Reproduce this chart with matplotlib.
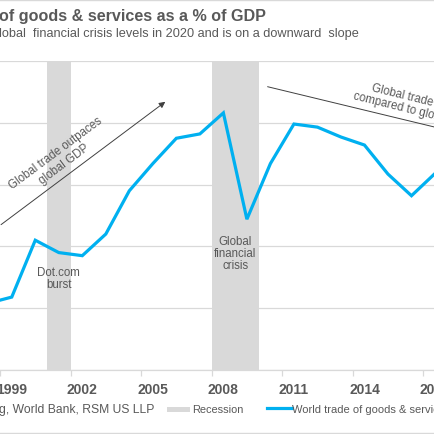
import matplotlib
matplotlib.use("Agg")
import matplotlib.pyplot as plt
from matplotlib.patches import Rectangle
from matplotlib.lines import Line2D

plt.rcParams["font.family"] = ["Liberation Sans", "DejaVu Sans"]

# data (world trade as % of GDP)
years = list(range(1998, 2018))
trade_pct = [45.4, 45.9, 50.5, 49.5, 49.25, 51.0, 54.5, 56.7, 58.75, 59.1,
             60.8, 52.2, 56.7, 59.9, 59.65, 58.85, 58.2, 55.85, 54.1, 55.9]
recessions = [(2000.5, 2001.5), (2007.5, 2009.5)]
tick_years = [1999, 2002, 2005, 2008, 2011, 2014, 2017]

W = H = 435.0
BLUE = "#00b0f0"
GRAY = "#595959"
LIGHT = "#d9d9d9"


def fx(px):
    return px / W


def fy(py):
    return 1 - py / H


fig = plt.figure(figsize=(4.35, 4.35), dpi=100)
ax = fig.add_axes([fx(0), fy(371), 1.0, fy(62) - fy(371)])

for a, b in recessions:
    ax.axvspan(a, b, color=LIGHT, lw=0, zorder=0)

ax.plot(years, trade_pct, color=BLUE, lw=2.3, zorder=3, solid_joinstyle="miter")

ax.set_xlim(1998.544, 2016.876)
ax.set_ylim(40, 65)
ax.set_yticks(range(40, 66, 5))
ax.yaxis.grid(True, color=LIGHT, lw=0.9)
ax.set_axisbelow(True)
ax.tick_params(axis="y", left=False, labelleft=False)

ax.set_xticks(tick_years)
ax.set_xticklabels([str(y) for y in tick_years], fontsize=10, fontweight="bold",
                   color=GRAY)
ax.set_xticks([y - 0.5 for y in tick_years], minor=True)
ax.tick_params(axis="x", which="major", length=0, pad=8.5)
ax.tick_params(axis="x", which="minor", length=4, color=LIGHT, width=0.9)

for s in ["top", "left", "right"]:
    ax.spines[s].set_visible(False)
ax.spines["bottom"].set_color(LIGHT)
ax.spines["bottom"].set_linewidth(0.9)

# annotations
arrow_style = dict(arrowstyle="-|>", color="#404040", lw=0.7,
                   mutation_scale=9, shrinkA=0, shrinkB=0)
ax.annotate("", xy=(2005.53, 61.7), xytext=(1998.544, 51.76),
            arrowprops=arrow_style, annotation_clip=False)
ax.text(2001.05, 57.15, "Global trade outpaces\nglobal GDP", rotation=36.6,
        ha="center", va="center", fontsize=8.3, color=GRAY, linespacing=1.1)

ax.annotate("", xy=(2019.5, 58.5), xytext=(2009.88, 62.92),
            arrowprops=arrow_style, annotation_clip=False)
ax.text(2016.2, 61.5, "Global trade slows\ncompared to global GDP",
        rotation=-13.8, ha="center", va="center", fontsize=8.3, color=GRAY,
        linespacing=1.1, clip_on=False)

ax.text(2001.0, 47.45, "Dot.com\nburst", ha="center", va="center",
        fontsize=8.3, color=GRAY, linespacing=1.05)
ax.text(2008.5, 49.47, "Global\nfinancial\ncrisis", ha="center", va="center",
        fontsize=8.3, color=GRAY, linespacing=1.05)

# title (cropped on the left in the reference)
fig.text(fx(-1), fy(21.5), "of goods & services as a % of GDP", fontsize=11.6,
         fontweight="bold", color=GRAY, va="baseline")
fig.text(fx(-1), fy(36.5),
         "lobal  financial crisis levels in 2020 and is on a downward  slope",
         fontsize=9.2, color=GRAY, va="baseline")

# source + legend
fig.text(fx(-1), fy(413), "g, World Bank, RSM US LLP", fontsize=8.7,
         color=GRAY, va="baseline")
fig.patches.append(Rectangle((fx(167), fy(413)), fx(23), 5.5 / H,
                             transform=fig.transFigure, color=LIGHT, lw=0))
fig.text(fx(192), fy(413), "Recession", fontsize=7.9, color=GRAY, va="baseline")
fig.lines.append(Line2D([fx(267), fx(292)], [fy(409), fy(409)],
                        transform=fig.transFigure, color=BLUE, lw=2.3))
fig.text(fx(292), fy(413), "World trade of goods & services", fontsize=8.0,
         color=GRAY, va="baseline")

# chart frame lines
fig.lines.append(Line2D([0, 1], [fy(0.6), fy(0.6)], transform=fig.transFigure,
                        color=LIGHT, lw=1))
fig.lines.append(Line2D([0, 1], [fy(434), fy(434)], transform=fig.transFigure,
                        color=LIGHT, lw=1))

fig.savefig("out.png", dpi=100)
